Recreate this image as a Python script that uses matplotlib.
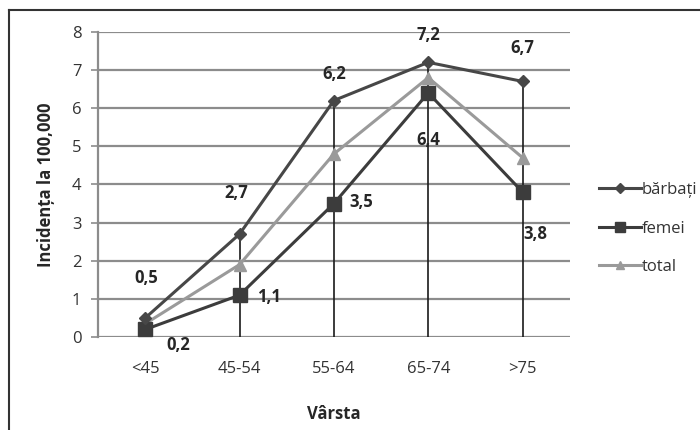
import matplotlib
matplotlib.use("Agg")
import matplotlib.pyplot as plt
from matplotlib.lines import Line2D

plt.rcParams['font.family'] = ['Open Sans', 'DejaVu Sans']

categories = ["<45", "45-54", "55-64", "65-74", ">75"]
barbati = [0.5, 2.7, 6.2, 7.2, 6.7]
femei = [0.2, 1.1, 3.5, 6.4, 3.8]
total = [0.35, 1.9, 4.8, 6.8, 4.7]
yticks = [0, 1, 2, 3, 4, 5, 6, 7, 8]

def fmt(v):
    return f"{v:.1f}".replace(".", ",")

fig = plt.figure(figsize=(7.0, 4.3), dpi=100)
ax = fig.add_axes([0.14, 0.216, 0.674, 0.71])

x = list(range(len(categories)))

# horizontal gridlines
for t in yticks:
    ax.axhline(t, color="#8c8c8c", lw=1.6, zorder=0)

# drop lines from the highest point of each category down to the axis
tops = [max(a, b, c) for a, b, c in zip(barbati, femei, total)]
ax.vlines(x, 0, tops, color="#1a1a1a", lw=1.2, zorder=1)

ax.plot(x, barbati, color="#474747", lw=2.2, marker="D", ms=6.5,
        label="bărbați", zorder=4)
ax.plot(x, femei, color="#3c3c3c", lw=2.2, marker="s", ms=10,
        label="femei", zorder=3)
ax.plot(x, total, color="#9a9a9a", lw=2.2, marker="^", ms=8,
        label="total", zorder=2)

# value labels
b_off = [(1, 29), (-2, 29.5), (0, 19), (0, 19.5), (0, 24)]
f_off = [(24, -11.5), (21.5, -1), (20, 1), (0, -34), (9, -30)]
for xi, v, (dx, dy) in zip(x, barbati, b_off):
    ax.annotate(fmt(v), (xi, v), xytext=(dx, dy), textcoords="offset points",
                ha="center", va="center", fontsize=12, fontweight="bold",
                color="#262626")
for xi, v, (dx, dy) in zip(x, femei, f_off):
    ax.annotate(fmt(v), (xi, v), xytext=(dx, dy), textcoords="offset points",
                ha="center", va="center", fontsize=12, fontweight="bold",
                color="#262626")

ax.set_xlim(-0.5, len(categories) - 0.5)
ax.set_ylim(0, 8)
ax.set_yticks(yticks)
ax.set_xticks(x)
ax.set_xticklabels(categories)
ax.tick_params(axis="x", length=0, pad=17, labelsize=12, colors="#333333")
ax.tick_params(axis="y", length=5, width=1.2, color="#8c8c8c", pad=7,
               labelsize=12, labelcolor="#333333")
for s in ["top", "right", "bottom"]:
    ax.spines[s].set_visible(False)
ax.spines["left"].set_color("#8c8c8c")
ax.spines["left"].set_linewidth(1.6)

ax.set_xlabel("Vârsta", fontsize=12, fontweight="bold", color="#262626",
              labelpad=20)
ax.set_ylabel("Incidența la 100,000", fontsize=12, fontweight="bold",
              color="#262626", labelpad=12)

leg = ax.legend(loc="center left", bbox_to_anchor=(1.031, 0.355), frameon=False,
                fontsize=12, handlelength=2.5, handletextpad=0.05,
                labelspacing=1.35, markerscale=0.75)
for t in leg.get_texts():
    t.set_color("#333333")

# chart frame
fig.add_artist(Line2D([9 / 700, 9 / 700], [0, 1 - 10 / 430],
                      transform=fig.transFigure, color="#333333", lw=1.5))
fig.add_artist(Line2D([9 / 700, 1], [1 - 10 / 430, 1 - 10 / 430],
                      transform=fig.transFigure, color="#333333", lw=1.5))

fig.savefig("out.png", dpi=100, facecolor="white")
